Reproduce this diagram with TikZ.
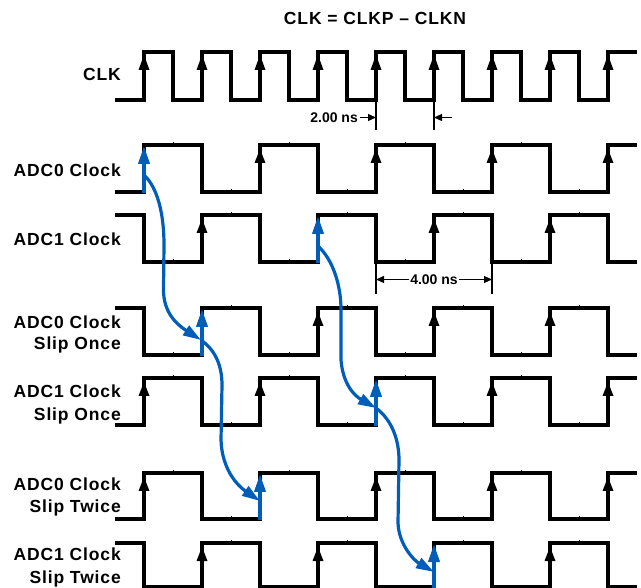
\documentclass[tikz,border=0pt]{standalone}
\usepackage{fontspec}
\setmainfont{Liberation Sans}
\newfontfamily\lblfont{Liberation Sans}[LetterSpace=5]
\usetikzlibrary{arrows.meta}
\definecolor{myblue}{RGB}{0,94,184}
\newcommand\waveA[2]{%
 \draw[sig] (115,#2) \foreach \i in {0,...,3}{ -- ({144+116*\i},#2) -- ({144+116*\i},#1) -- ({202+116*\i},#1) -- ({202+116*\i},#2)} -- (608,#2) -- (608,#1) -- (637,#1);
 \foreach \x in {144,260,376,492,608}{\fill ({\x-5.5},{#1+18}) -- (\x,{#1+4}) -- ({\x+5.5},{#1+18}) -- cycle;}
 \foreach \x in {173,289,405,521}{\draw[tck] (\x,{#1-2.5}) -- (\x,{#1+2.5});}
 \foreach \x in {231,347,463,579}{\draw[tck] (\x,{#2-2.5}) -- (\x,{#2+2.5});}
}
\newcommand\waveB[2]{%
 \draw[sig] (115,#1) \foreach \i in {0,...,3}{ -- ({144+116*\i},#1) -- ({144+116*\i},#2) -- ({202+116*\i},#2) -- ({202+116*\i},#1)} -- (608,#1) -- (608,#2) -- (637,#2);
 \foreach \x in {202,318,434,550}{\fill ({\x-5.5},{#1+18}) -- (\x,{#1+4}) -- ({\x+5.5},{#1+18}) -- cycle;}
 \foreach \x in {231,347,463,579}{\draw[tck] (\x,{#1-2.5}) -- (\x,{#1+2.5});}
 \foreach \x in {173,289,405,521}{\draw[tck] (\x,{#2-2.5}) -- (\x,{#2+2.5});}
}
\begin{document}
\begin{tikzpicture}[x=1pt,y=-1pt,
  sig/.style={line width=3.2pt},
  tck/.style={line width=0.6pt},
  blu/.style={line width=3.2pt, draw=myblue, -{Triangle[length=18pt,width=11pt,fill=myblue]}},
  dimln/.style={line width=1.2pt},
  dimar/.style={line width=1.2pt, -{Triangle[length=8pt,width=7pt]}},
  lbl/.style={font=\lblfont\bfseries\fontsize{17.5}{21}\selectfont, inner sep=0pt, anchor=base east},
  dimtxt/.style={font=\bfseries\fontsize{14}{16}\selectfont, inner sep=0pt}]
\useasboundingbox (0,0) rectangle (641,588);

% title
\node[lbl, anchor=base] (title) at (375,25) {CLK = CLKP – CLKN};

% CLK
\draw[sig] (115,100) \foreach \i in {0,...,7}{ -- ({144+58*\i},100) -- ({144+58*\i},52) -- ({173+58*\i},52) -- ({173+58*\i},100)} -- (608,100) -- (608,52) -- (637,52);
\foreach \k in {0,...,8}{\fill ({144+58*\k-5.5},70) -- ({144+58*\k},55) -- ({144+58*\k+5.5},70) -- cycle;}
\node[lbl] (lclk) at (121,80.5) {CLK};

% waves
\waveA{145}{192}
\waveB{215}{262}
\waveB{308}{355}
\waveA{378}{425}
\waveA{473}{519}
\waveB{543}{587}

% labels
\node[lbl] (l1) at (121,176.3) {ADC0 Clock};
\node[lbl] (l2) at (121,245.3) {ADC1 Clock};
\node[lbl] (l3a) at (121,328.5) {ADC0 Clock};
\node[lbl] (l3b) at (121,350) {Slip Once};
\node[lbl] (l4a) at (121,397.5) {ADC1 Clock};
\node[lbl] (l4b) at (121,420.3) {Slip Once};
\node[lbl] (l5a) at (121,491) {ADC0 Clock};
\node[lbl] (l5b) at (121,512.6) {Slip Twice};
\node[lbl] (l6a) at (121,560.8) {ADC1 Clock};
\node[lbl] (l6b) at (121,583.3) {Slip Twice};

% 2.00 ns
\draw[dimln] (376,101) -- (376,130);
\draw[dimln] (434,101) -- (434,130);
\node[dimtxt, anchor=base east] (t2) at (358,122.5) {2.00 ns};
\draw[dimar] (360,117.5) -- (376,117.5);
\draw[dimar] (452,117.5) -- (434,117.5);

% 4.00 ns
\draw[dimln] (376,263) -- (376,294);
\draw[dimln] (492,263) -- (492,294);
\node[dimtxt, anchor=base] (t4) at (434,284.5) {4.00 ns};
\draw[dimar] (409,279.5) -- (376,279.5);
\draw[dimar] (459,279.5) -- (492,279.5);

% blue vertical arrows
\draw[blu] (144,193) -- (144,146);
\draw[blu] (202,356) -- (202,309);
\draw[blu] (260,520) -- (260,474);
\draw[blu] (318,263) -- (318,216);
\draw[blu] (376,426) -- (376,379);
\draw[blu] (434,590) -- (434,544);

% blue curves
\draw[blu] (144,175) .. controls (158,188) and (164,215) .. (164,245) -- (163.5,290) .. controls (163.5,312) and (176,324) .. (201,340);
\draw[blu] (201,340) .. controls (215,350) and (222,365) .. (222,385) -- (221,440) .. controls (222,470) and (238,486) .. (260,501);
\draw[blu] (318,246) .. controls (333,260) and (341,285) .. (341,310) -- (341,360) .. controls (343,385) and (355,396) .. (376,408);
\draw[blu] (376,408) .. controls (392,420) and (399,440) .. (399,460) -- (398,523) .. controls (399,546) and (415,561) .. (434,572);
\end{tikzpicture}
\end{document}
